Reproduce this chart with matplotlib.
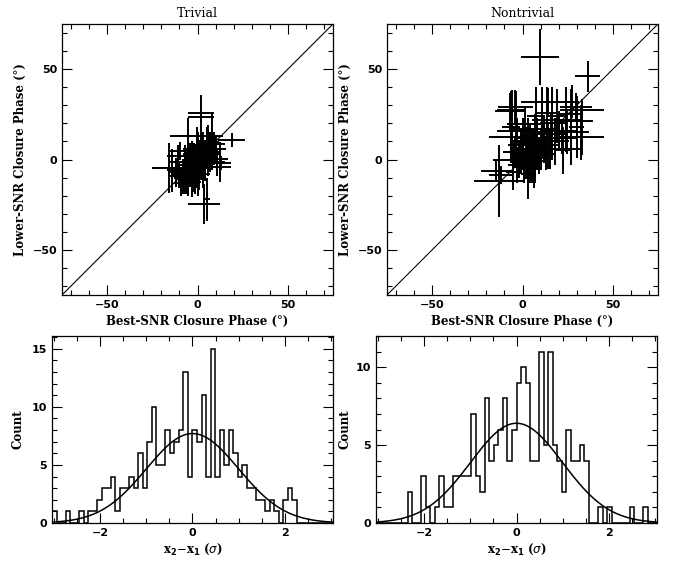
import numpy as np
import matplotlib
matplotlib.use("Agg")
import matplotlib.pyplot as plt
from matplotlib.ticker import MultipleLocator

# ---------------- data ----------------
# Trivial closure phases (deg): best-SNR (x) vs lower-SNR (y), with errors
triv_x = [2.0, 2.0, -5.0, -0.5, 19.0, 8.0, 6.0, 12.4, -15.5, -14.0, 3.5, 5.0, -1.3,
          9.2, 10.5, 11.0, 12.8, 11.0, -9.8, -10.8, -11.0, -8.0,
          -8, -6, -4, -3, -2, 0, 1, 2, 3, 4, 5, -1, -5, -10, -7, 0, 6, 3, -2, 1, 7, -4,
          -9, 2, 4, -3, -12, 0, 5, 8,
          -6, -1, 3, 7, -3, 1, 5, -7, 9, -2]
triv_y = [25.5, 23.5, 6.0, 13.0, 10.7, 9.5, 8.0, -1.5, -4.6, -6.0, -24.6, -22.0, -12.5,
          8.5, 5.8, 0.3, -2.0, -4.2, 4.9, 2.2, -1.5, -7.8,
          -10, -8, -5, -9, -3, -2, 0, 2, 4, 1, 5, -6, -12, -9, -3, 5, 2, -4, 1, -8, 6, 0,
          -13, 8, -2, 3, -7, -11, 10, 3,
          -6, -4, 0, 4, -1, 3, 7, -11, 6, -7]
triv_xerr = [7.0, 7.0, 3.0, 14.5, 7.5, 4.0, 3.0, 3.0, 9.5, 3.0, 9.0, 2.0, 3.0,
             6.0, 5.5, 6.0, 6.0, 7.7, 6.0, 6.0, 5.0, 6.0,
             5, 4, 6, 5, 6, 5, 6, 5, 6, 5, 4, 5, 4, 5, 4, 4, 5, 4, 5, 6, 6, 4,
             4, 4, 5, 5, 4, 4, 4, 5,
             6, 7, 5, 6, 5, 7, 5, 4, 5, 6]
triv_yerr = [10.0, 3.0, 17.0, 5.0, 4.0, 15.5, 11.0, 11.0, 14.0, 12.0, 11.0, 12.0, 6.5,
             4.0, 7.0, 5.0, 4.0, 5.0, 5.0, 6.0, 8.0, 8.0,
             9, 11, 10, 12, 9, 11, 10, 12, 11, 9, 10, 10, 8, 7, 11, 10, 11, 12, 8, 9, 8, 9,
             7, 9, 10, 7, 8, 9, 8, 8,
             10, 12, 9, 11, 10, 8, 10, 8, 9, 11]

# Nontrivial closure phases (deg)
nont_x = [9.5, 36.0, -13.0, -12.0, -14.7, -5.5, 3.3, 6.4, -5.0, 22.5, -6.0, -3.0, 1.5,
          -7.0, -4.0, -6.0, 14.0, 7.7, 11.0, 13.8, 16.6, 19.3, 24.0, 26.7, 29.8, 33.0,
          30.0, 33.0, 27.0, 27.3, 30.0, 32.6, 24.9, -6.4, -3.7,
          0, 2, 4, 6, 8, -2, 10, 12, 5, -1, 3, 14, 7, 1, 9, 16, 18, -4, 11, 20, 5, 0,
          -3, 13, 22,
          3, 6, -1, 8, 4, 10, 2, 7, 15, 12]
nont_y = [56.5, 46.0, -12.0, -8.8, -6.1, -0.5, -8.0, -5.0, -7.0, 5.0, 12.3, 16.0, 19.7,
          26.7, 29.3, 27.4, 31.7, 24.0, 22.0, 26.0, 20.0, 24.0, 22.0, 25.0, 28.9, 27.6,
          21.5, 12.3, 5.9, 32.0, 18.0, 15.0, 15.0, 18.0, 17.0,
          5, 2, 8, 4, 10, 0, 6, 12, -2, 8, 12, 8, 15, -4, 2, 14, 10, 4, 17, 16, 10, 12,
          -3, 3, 12,
          0, 6, 3, 8, -1, 4, 9, 1, 6, 10]
nont_xerr = [10.5, 7.0, 14.0, 6.5, 8.3, 11.0, 4.0, 3.0, 4.0, 4.0, 12.6, 11.0, 10.0,
             8.0, 9.7, 8.0, 15.0, 5.0, 6.0, 6.0, 7.0, 6.0, 8.0, 7.0, 8.8, 12.0,
             9.0, 12.0, 6.0, 4.0, 4.0, 4.0, 5.0, 5.0, 4.0,
             7, 6, 8, 6, 9, 6, 7, 8, 5, 7, 6, 7, 7, 6, 6, 9, 8, 7, 8, 10, 11, 4,
             5, 5, 8,
             7, 8, 6, 7, 9, 6, 8, 5, 7, 9]
nont_yerr = [15.5, 8.5, 20.0, 5.0, 6.0, 9.0, 14.0, 11.0, 10.0, 13.0, 8.0, 7.0, 10.0,
             10.0, 9.0, 11.0, 8.0, 16.0, 18.0, 14.0, 20.0, 15.0, 18.0, 14.0, 8.0, 6.0,
             8.0, 10.0, 9.0, 9.0, 17.0, 15.0, 12.0, 20.0, 21.0,
             11, 13, 12, 10, 13, 10, 11, 12, 11, 9, 11, 13, 10, 9, 10, 11, 13, 8, 10, 11, 7, 11,
             10, 9, 9,
             12, 10, 11, 13, 12, 10, 9, 14, 11, 12]

# Histogram counts of x2-x1 (sigma), 62 bins spanning -3.05..3.05
triv_counts = [1, 0, 0, 1, 0, 0, 1, 0, 1, 1, 2, 3, 3, 4, 1, 3, 3, 4, 3, 6, 3, 7, 10,
               5, 5, 8, 6, 7, 8, 13, 4,
               8, 7, 11, 4, 15, 4, 8, 5, 8, 6, 4, 5, 3, 3, 2, 2, 1, 2, 1, 0, 2, 3, 2,
               0, 0, 0, 0, 0, 0, 0, 0]
nont_counts = [0, 0, 0, 0, 0, 0, 0, 2, 0, 0, 3, 1, 0, 1, 3, 1, 1, 3, 3, 3, 3, 7, 3,
               2, 8, 4, 5, 6, 8, 4, 6,
               9, 10, 9, 4, 4, 11, 5, 11, 5, 4, 2, 6, 4, 4, 5, 4, 0, 0, 1, 0, 1, 0,
               0, 0, 0, 1, 0, 0, 1, 0, 0]
hist_range = (-3.05, 3.05)

# Gaussian overlays: amplitude, mean, sigma
triv_gauss = (7.7, 0.0, 1.0)
nont_gauss = (6.4, 0.0, 1.0)

titles = ["Trivial", "Nontrivial"]

# ---------------- figure ----------------
W, H = 675, 562
fig = plt.figure(figsize=(W / 100, H / 100), dpi=100)

def px_axes(l, t, r, b):
    return fig.add_axes([l / W, 1 - b / H, (r - l) / W, (b - t) / H])

tick_font = dict(family="DejaVu Sans", weight="bold", size=8)
lab_font = dict(family="DejaVu Serif", weight="bold", size=8.5)

def style(ax):
    ax.tick_params(which="both", direction="in", top=True, right=True, width=0.8)
    ax.tick_params(which="major", length=7)
    ax.tick_params(which="minor", length=3.5)
    for lbl in ax.get_xticklabels() + ax.get_yticklabels():
        lbl.set_fontfamily(tick_font["family"])
        lbl.set_fontweight(tick_font["weight"])
        lbl.set_fontsize(tick_font["size"])
    for s in ax.spines.values():
        s.set_linewidth(0.9)

top_axes = [px_axes(62, 24, 333, 295), px_axes(387, 24, 658, 295)]
bot_axes = [px_axes(52, 336, 333, 523), px_axes(376, 336, 657, 523)]

scatter_sets = [(triv_x, triv_y, triv_xerr, triv_yerr),
                (nont_x, nont_y, nont_xerr, nont_yerr)]
for ax, (x, y, xe, ye), title in zip(top_axes, scatter_sets, titles):
    ax.plot([-75, 75], [-75, 75], color="black", lw=0.8)
    ax.errorbar(x, y, xerr=xe, yerr=ye, fmt="none", ecolor="black",
                elinewidth=1.4, capsize=0)
    ax.set_xlim(-75, 75)
    ax.set_ylim(-75, 75)
    ax.xaxis.set_major_locator(MultipleLocator(50))
    ax.xaxis.set_minor_locator(MultipleLocator(10))
    ax.yaxis.set_major_locator(MultipleLocator(50))
    ax.yaxis.set_minor_locator(MultipleLocator(10))
    ax.set_title(title, fontfamily="DejaVu Serif", fontsize=9, pad=5)
    ax.set_xlabel("Best-SNR Closure Phase (°)", **lab_font, labelpad=4)
    ax.set_ylabel("Lower-SNR Closure Phase (°)", **lab_font, labelpad=4)
    style(ax)

edges = np.linspace(hist_range[0], hist_range[1], len(triv_counts) + 1)
xs = np.linspace(hist_range[0], hist_range[1], 400)
hist_sets = [(triv_counts, triv_gauss, 16.1, [0, 5, 10, 15], 5),
             (nont_counts, nont_gauss, 12.0, [0, 5, 10], 3)]
for ax, (counts, (amp, mu, sig), ytop, yt, pad) in zip(bot_axes, hist_sets):
    ax.stairs(counts, edges, color="black", lw=1.1, baseline=0)
    ax.plot(xs, amp * np.exp(-0.5 * ((xs - mu) / sig) ** 2), color="black", lw=1.1)
    ax.set_xlim(*hist_range)
    ax.set_ylim(0, ytop)
    ax.xaxis.set_major_locator(MultipleLocator(2))
    ax.xaxis.set_minor_locator(MultipleLocator(0.5))
    ax.set_yticks(yt)
    ax.yaxis.set_minor_locator(MultipleLocator(1))
    ax.set_xlabel(r"x$_\mathbf{2}$$-$x$_\mathbf{1}$ ($\sigma$)", **lab_font, labelpad=3)
    ax.set_ylabel("Count", **lab_font, labelpad=pad)
    style(ax)

fig.savefig("out.png", dpi=100)
